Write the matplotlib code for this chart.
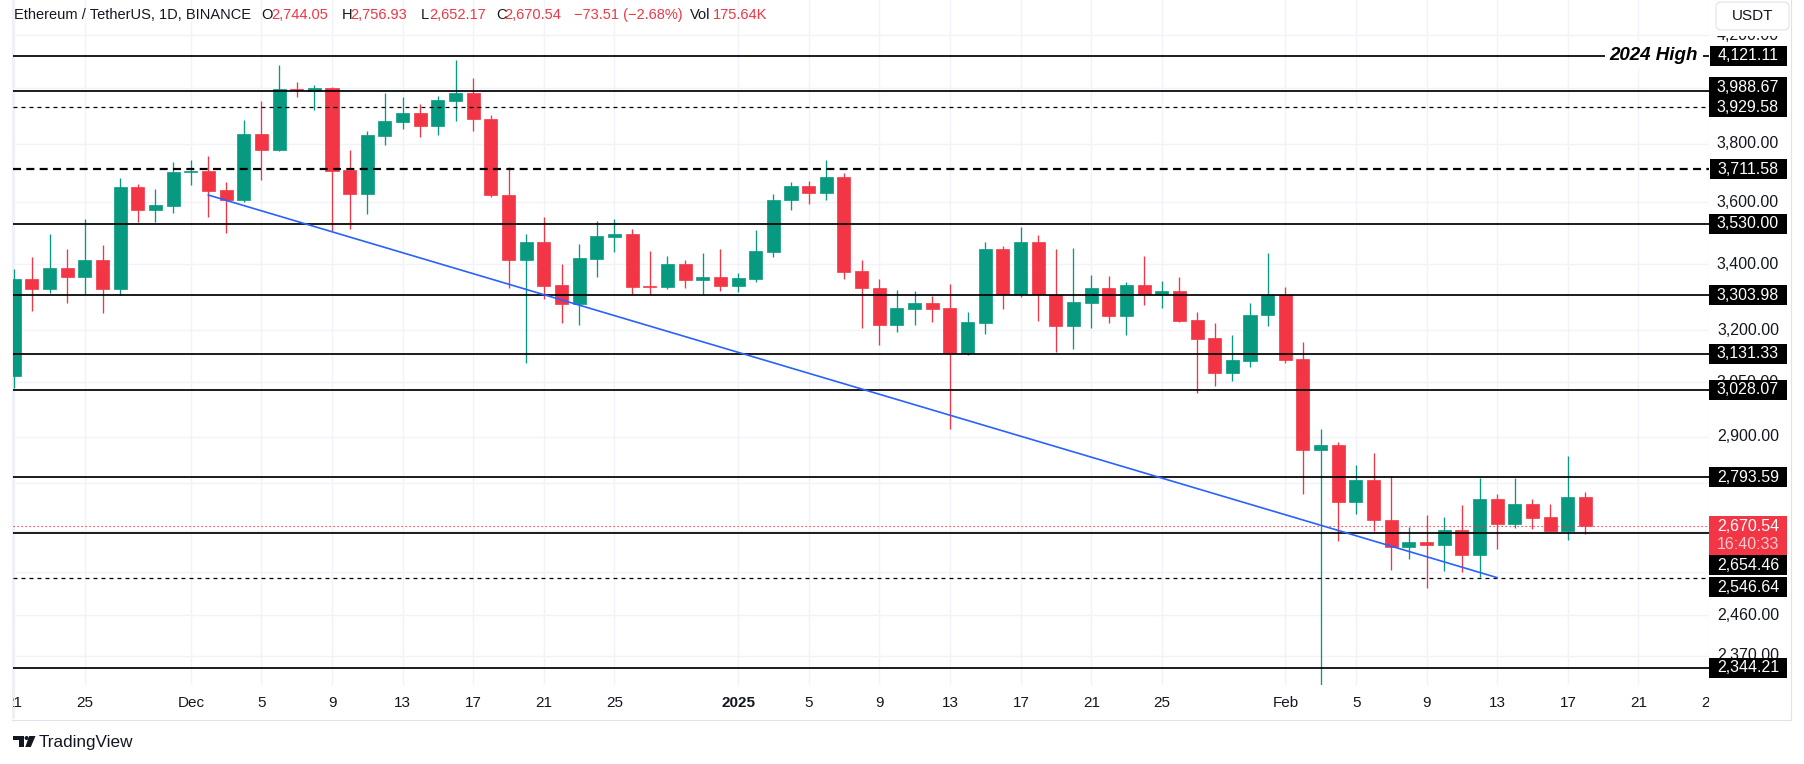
import numpy as np
import pandas as pd
import matplotlib
matplotlib.use("Agg")
import matplotlib.pyplot as plt
import matplotlib.dates as mdates
import matplotlib.transforms as mtransforms
from matplotlib.lines import Line2D
from matplotlib.patches import FancyBboxPatch, Polygon, Circle, Rectangle
from matplotlib.path import Path
from matplotlib.ticker import NullLocator

plt.rcParams["font.family"] = ["Liberation Sans", "DejaVu Sans"]

# ETH/USDT daily candles (Binance)
dates = pd.date_range("2024-11-21", "2025-02-18", freq="D")
opens = np.array([
    3066, 3355, 3324, 3389, 3359, 3414, 3322, 3652, 3576, 3589,
    3702, 3706, 3641, 3609, 3834, 3779, 3997, 3990, 4000, 3710,
    3626, 3827, 3878, 3908, 3863, 3954, 3983, 3887, 3625, 3414,
    3471, 3336, 3279, 3417, 3488, 3497, 3334, 3331, 3401, 3352,
    3361, 3334, 3353, 3439, 3606, 3655, 3632, 3685, 3380, 3327,
    3216, 3264, 3281, 3266, 3133, 3222, 3449, 3308, 3471, 3305,
    3213, 3282, 3327, 3242, 3336, 3308, 3318, 3230, 3177, 3075,
    3111, 3245, 3305, 3116, 2866, 2879, 2730, 2788, 2687, 2621,
    2632, 2626, 2662, 2601, 2739, 2675, 2727, 2694, 2660, 2744.05,
])
highs = np.array([
    3386, 3423, 3497, 3449, 3545, 3461, 3682, 3662, 3645, 3736,
    3743, 3757, 3668, 3884, 3952, 4087, 4022, 4011, 4004, 3779,
    3845, 3983, 3968, 3943, 3971, 4105, 4036, 3902, 3719, 3497,
    3552, 3401, 3465, 3539, 3545, 3513, 3442, 3426, 3414, 3436,
    3449, 3373, 3510, 3628, 3669, 3673, 3743, 3699, 3414, 3355,
    3321, 3318, 3302, 3339, 3254, 3471, 3458, 3519, 3494, 3449,
    3452, 3367, 3364, 3345, 3426, 3348, 3361, 3254, 3222, 3185,
    3281, 3436, 3330, 3165, 2921, 2887, 2826, 2858, 2798, 2668,
    2699, 2694, 2724, 2793, 2752, 2793, 2739, 2727, 2850, 2756.93,
])
lows = np.array([
    3033, 3258, 3312, 3282, 3306, 3252, 3306, 3536, 3536, 3566,
    3659, 3553, 3501, 3600, 3676, 3775, 3968, 3921, 3506, 3514,
    3562, 3796, 3853, 3824, 3831, 3881, 3846, 3616, 3327, 3103,
    3294, 3222, 3216, 3359, 3440, 3307, 3307, 3322, 3325, 3307,
    3316, 3313, 3345, 3424, 3573, 3593, 3609, 3354, 3207, 3157,
    3193, 3216, 3225, 2920, 3127, 3188, 3264, 3300, 3228, 3135,
    3144, 3206, 3222, 3185, 3276, 3267, 3225, 3021, 3039, 3054,
    3092, 3213, 3103, 2752, 2125, 2634, 2700, 2658, 2564, 2590,
    2522, 2562, 2560, 2548, 2614, 2667, 2663, 2658, 2638, 2652.17,
])
closes = np.array([
    3355, 3324, 3389, 3359, 3414, 3322, 3652, 3576, 3592, 3702,
    3706, 3639, 3609, 3834, 3779, 3997, 3993, 4000, 3707, 3626,
    3830, 3881, 3908, 3863, 3957, 3983, 3888, 3623, 3414, 3471,
    3334, 3279, 3420, 3491, 3497, 3331, 3331, 3401, 3352, 3361,
    3334, 3358, 3441, 3608, 3655, 3632, 3685, 3377, 3325, 3216,
    3266, 3281, 3264, 3133, 3224, 3449, 3308, 3471, 3308, 3213,
    3284, 3327, 3242, 3336, 3308, 3318, 3228, 3175, 3075, 3113,
    3245, 3305, 3114, 2866, 2879, 2730, 2788, 2685, 2621, 2632,
    2626, 2662, 2601, 2739, 2675, 2727, 2692, 2660, 2744.05, 2670.54,
])
volume_text = "175.64K"
countdown = "16:40:33"

solid_levels = [4121.11, 3988.67, 3530.00, 3303.98, 3131.33, 3028.07, 2793.59, 2654.46, 2344.21]
dotted_levels = [3929.58, 2546.64]
dashed_level = 3711.58

trend_dates = ["2024-12-02", "2025-02-13"]
trend_prices = [3624, 2547]

# grid rows of the log price scale; only some of them have a visible label
price_ticks = [4200, 4000, 3800, 3600, 3400, 3200, 3050, 2900, 2780, 2660, 2560, 2460, 2370]
price_tick_labels = [4200, 3800, 3600, 3400, 3200, 3050, 2900, 2460, 2370]

tick_dates = ["2024-11-21", "2024-11-25", "2024-12-01", "2024-12-05", "2024-12-09",
              "2024-12-13", "2024-12-17", "2024-12-21", "2024-12-25", "2025-01-01",
              "2025-01-05", "2025-01-09", "2025-01-13", "2025-01-17", "2025-01-21",
              "2025-01-25", "2025-02-01", "2025-02-05", "2025-02-09", "2025-02-13",
              "2025-02-17", "2025-02-21", "2025-02-25"]
tick_labels = ["21", "25", "Dec", "5", "9", "13", "17", "21", "25", "2025",
               "5", "9", "13", "17", "21", "25", "Feb", "5", "9", "13",
               "17", "21", "25"]

W, H = 1804, 764
UP = "#089981"
DOWN = "#F23645"
TEXT = "#131722"
GRID = "#F0F3FA"
BORDER = "#E0E3EB"

fig = plt.figure(figsize=(W / 100, H / 100), dpi=100)
fig.patch.set_facecolor("white")
# pixel coords measured from the top-left corner
pix = mtransforms.Affine2D().scale(1 / W, -1 / H).translate(0, 1) + fig.transFigure


def fig_rect(left, top, right, bottom):
    return [left / W, 1 - bottom / H, (right - left) / W, (bottom - top) / H]


ax = fig.add_axes(fig_rect(13, 0, 1709, 685))
ax_time = fig.add_axes(fig_rect(13, 685, 1709, 719))
ax.set_facecolor("none")

xs = mdates.date2num(dates)
x_lim = (xs[0] - 0.07, xs[0] + 95.97)

ax.set_yscale("log")
ax.set_xlim(*x_lim)
ax.set_ylim(2307, 4338)

# candles
colors = np.where(closes >= opens, UP, DOWN)
ax.vlines(xs, lows, highs, colors=colors, linewidth=0.95, zorder=2)
ax.bar(xs, np.abs(closes - opens), width=0.74, bottom=np.minimum(opens, closes),
       color=colors, edgecolor=colors, linewidth=0.5, zorder=2.2)

# grid
ax.set_yticks(price_ticks)
ax.yaxis.set_minor_locator(NullLocator())
ax.set_xticks(mdates.date2num(pd.to_datetime(tick_dates)))
ax.grid(True, color=GRID, linewidth=1.0)
ax.set_axisbelow(True)
ax.tick_params(length=0, labelleft=False, labelbottom=False)
for s in ax.spines.values():
    s.set_visible(False)

# support / resistance levels
for v in solid_levels:
    ax.axhline(v, color="black", linewidth=1.25, zorder=3)
for v in dotted_levels:
    ax.axhline(v, color="black", linewidth=0.9, linestyle=(0, (3.2, 3.2)), zorder=3)
ax.axhline(dashed_level, color="black", linewidth=1.6, linestyle=(0, (3.6, 2.4)), zorder=3)

last_price = closes[-1]
ax.axhline(last_price, color=DOWN, linewidth=0.8, linestyle=(0, (1.2, 2.4)), zorder=2.5)

ax.plot(mdates.date2num(pd.to_datetime(trend_dates)), trend_prices,
        color="#2962FF", linewidth=1.2, zorder=4)

price_tr = mtransforms.blended_transform_factory(fig.transFigure, ax.transData)
ax.text(1698 / W, solid_levels[0], "2024 High", transform=price_tr, ha="right", va="center",
        fontsize=13.5, fontweight="bold", fontstyle="italic", color="black",
        bbox=dict(boxstyle="square,pad=0.26", fc="white", ec="none"), zorder=5)


# price axis label boxes
def tv_box(x0, y0, width, height, mutation_size):
    px = 0.47 * mutation_size
    py = 0.16 * mutation_size
    x0, y0 = x0 - px, y0 - py
    x1, y1 = x0 + width + 2 * px, y0 + height + 2 * py
    return Path([(x0, y0), (x1, y0), (x1, y1), (x0, y1), (x0, y0)], closed=True)


def tv_box_tall(x0, y0, width, height, mutation_size):
    # same box, stretched down for a second line (countdown)
    px = 0.47 * mutation_size
    py = 0.16 * mutation_size
    extra = 1.2 * mutation_size
    x0, y0b = x0 - px, y0 - py - extra
    x1, y1 = x0 + width + 2 * px, y0 + height + py
    return Path([(x0, y0b), (x1, y0b), (x1, y1), (x0, y1), (x0, y0b)], closed=True)


LABEL_FS = 11.5
label_x = 1779 / W
for v in price_tick_labels:
    ax.text(label_x, v, f"{v:,.2f}", transform=price_tr, ha="right", va="center",
            fontsize=LABEL_FS, color=TEXT, clip_on=False, zorder=5)

# labels pushed apart where they collide (offsets in points)
label_shift = {3988.67: 2.8, 2654.46: -23.3, 2546.64: -6.8}
for v in solid_levels + dotted_levels + [dashed_level]:
    ax.annotate(f"{v:,.2f}", xy=(label_x, v), xycoords=price_tr,
                xytext=(0, label_shift.get(v, 0)), textcoords="offset points",
                ha="right", va="center", fontsize=LABEL_FS, color="white",
                bbox=dict(boxstyle=tv_box, fc="black", ec="none"),
                annotation_clip=False, zorder=6)

ax.annotate(f"{last_price:,.2f}", xy=(label_x, last_price), xycoords=price_tr,
            xytext=(0, 0), textcoords="offset points", ha="right", va="center",
            fontsize=LABEL_FS, color="white",
            bbox=dict(boxstyle=tv_box_tall, fc=DOWN, ec="none"), annotation_clip=False, zorder=7)
ax.annotate(countdown, xy=(label_x, last_price), xycoords=price_tr,
            xytext=(0, -13.3), textcoords="offset points", ha="right", va="center",
            fontsize=LABEL_FS, color="#FCC9CE", annotation_clip=False, zorder=8)

# time axis
ax_time.set_xlim(*x_lim)
ax_time.set_ylim(0, 1)
ax_time.axis("off")
for d, lab in zip(pd.to_datetime(tick_dates), tick_labels):
    ax_time.text(mdates.date2num(d), 0.46, lab, ha="center", va="center", fontsize=11,
                 color=TEXT, fontweight="bold" if lab == "2025" else "normal", clip_on=True)

# frame pieces
fig.add_artist(Rectangle((11.8, 0), 2.7, 719, transform=pix, fc="#EEF0F4", ec="none", zorder=-1))
fig.add_artist(Line2D([12, 1790.5], [719.5, 719.5], transform=pix, color=BORDER, linewidth=0.8))
fig.add_artist(Line2D([1790.5, 1790.5], [0, 719.5], transform=pix, color=BORDER, linewidth=0.8))

# currency button in the top-right corner (its white margin hides the top of 4,200.00)
fig.add_artist(Rectangle((1710, 0), 80, 35.5, transform=pix, fc="white", ec="none", zorder=1.5))
fig.add_artist(FancyBboxPatch((1716, 2), 73, 28, boxstyle="round,pad=0,rounding_size=5",
                              transform=pix, fc="white", ec=BORDER, linewidth=0.8, zorder=2))
fig.text(1752.5, 16, "USDT", transform=pix, ha="center", va="center", fontsize=11, color=TEXT, zorder=3)

# legend line at the top
change = closes[-1] - closes[-2]
pct = change / closes[-2] * 100
header_parts = [
    ("Ethereum / TetherUS, 1D, BINANCE", TEXT, 14),
    ("O", TEXT, 261.6), (f"{opens[-1]:,.2f}", DOWN, 271.2),
    ("H", TEXT, 341.7), (f"{highs[-1]:,.2f}", DOWN, 350.7),
    ("L", TEXT, 420.7), (f"{lows[-1]:,.2f}", DOWN, 429.2),
    ("C", TEXT, 496.6), (f"{closes[-1]:,.2f}", DOWN, 504.5),
    (f"{change:+.2f} ({pct:+.2f}%)".replace("-", "\u2212"), DOWN, 573.5),
    ("Vol", TEXT, 690), (volume_text, DOWN, 712.4),
]
for txt, col, x in header_parts:
    fig.text(x, 15, txt, transform=pix, ha="left", va="center", fontsize=10.5, color=col, zorder=3)

# TradingView mark
fig.add_artist(Polygon([(13, 736), (23.5, 736), (23.5, 747), (18.8, 747), (18.8, 740), (13, 740)],
                       closed=True, transform=pix, fc=TEXT, ec="none"))
fig.add_artist(Circle((26.6, 738), 2.0, transform=pix, fc=TEXT, ec="none"))
fig.add_artist(Polygon([(29.2, 736), (35.5, 736), (30.8, 747), (25.3, 747)],
                       closed=True, transform=pix, fc=TEXT, ec="none"))
fig.text(39, 742, "TradingView", transform=pix, ha="left", va="center", fontsize=12.3, color=TEXT)

fig.savefig("out.png", dpi=100, facecolor="white")
